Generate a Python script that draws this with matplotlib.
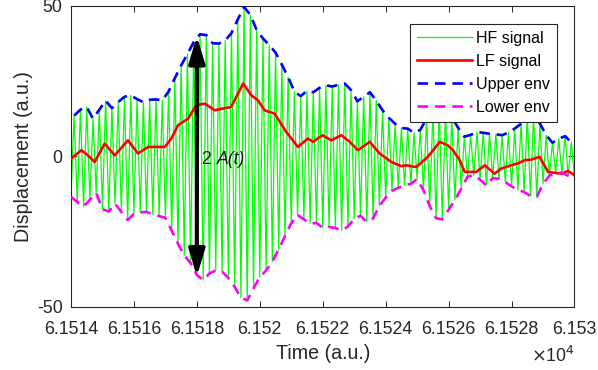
import matplotlib
matplotlib.use("Agg")
import matplotlib.pyplot as plt
import numpy as np
from matplotlib.ticker import FuncFormatter

plt.rcParams["font.family"] = ["Liberation Sans", "DejaVu Sans"]
plt.rcParams["axes.unicode_minus"] = False

# time axis (a.u.)
t_start = 61514.0
t_end = 61530.0
hf_step = 0.2  # spacing of HF extrema

# HF signal peaks (t = t_start + 0.1 + 0.2k)
hf_peaks = [13.5, 15.5, 16.4, 12.5, 15.5, 18.5, 16.0, 18.0, 19.8, 20.3,
            19.0, 18.0, 18.8, 18.9, 18.6, 21.5, 26.0, 30.2, 34.0, 38.0,
            40.6, 40.3, 37.6, 37.5, 38.5, 41.0, 45.5, 49.7, 47.0, 42.0,
            39.2, 37.0, 34.5, 30.5, 26.3, 21.5, 20.0, 21.8, 21.3, 22.8,
            23.6, 23.2, 23.8, 24.2, 22.0, 18.3, 19.8, 21.3, 18.5, 15.3,
            12.8, 10.8, 9.4, 9.2, 7.8, 8.8, 12.5, 15.0, 16.0, 15.0,
            13.0, 9.5, 6.5, 7.1, 8.1, 7.8, 7.5, 7.3, 7.0, 7.9,
            9.2, 10.8, 13.5, 13.5, 10.9, 7.0, 4.5, 5.8, 6.7, 4.6]

# HF signal troughs (t = t_start + 0.2k)
hf_troughs = [-13.5, -15.2, -16.7, -14.5, -12.2, -17.6, -18.4, -15.8, -18.5, -21.2,
              -19.2, -18.7, -18.5, -19.4, -19.9, -20.5, -24.8, -29.1, -33.0, -35.5,
              -39.5, -41.2, -39.0, -38.0, -38.4, -40.5, -43.5, -47.0, -48.0, -44.0,
              -40.2, -38.0, -35.0, -31.0, -26.6, -22.3, -19.5, -21.0, -22.4, -22.2,
              -23.8, -23.5, -23.9, -24.6, -23.4, -20.8, -19.8, -21.8, -20.7, -16.5,
              -13.8, -11.5, -10.5, -9.6, -9.2, -7.6, -11.3, -16.6, -20.6, -21.0,
              -17.8, -14.5, -10.8, -6.8, -6.3, -7.8, -9.7, -7.3, -7.5, -8.6,
              -10.0, -11.2, -11.9, -13.2, -13.5, -9.1, -6.5, -5.5, -5.5, -6.5,
              -7.0]

# LF signal (offset from t_start, value)
lf_t = [0.0, 0.33, 0.54, 0.75, 1.07, 1.39, 1.81, 2.13, 2.45, 2.66,
        2.98, 3.19, 3.40, 3.72, 3.98, 4.25, 4.57, 4.83, 5.09, 5.47,
        5.73, 5.94, 6.15, 6.47, 6.84, 7.21, 7.53, 7.69, 7.99, 8.27,
        8.59, 8.86, 9.12, 9.49, 9.81, 10.18, 10.50, 10.66, 10.97, 11.34,
        11.72, 11.96, 12.14, 12.35, 12.51, 12.88, 13.15, 13.46, 13.67, 13.99,
        14.20, 14.42, 14.63, 14.89, 15.16, 15.58, 15.79, 16.0]
lf_v = [-0.8, 2.0, 0.3, -1.9, 4.2, 0.3, 5.3, 0.9, 3.1, 3.1,
        3.1, 5.9, 10.3, 12.5, 17.0, 17.5, 15.3, 15.9, 16.4, 24.2,
        20.3, 18.6, 15.3, 14.2, 8.1, 3.1, 5.9, 4.8, 7.0, 5.3,
        7.0, 4.8, 2.0, 4.8, 0.9, -1.9, -3.3, -3.0, -3.6, -0.2,
        4.8, 3.7, 2.0, -1.3, -5.2, -5.2, -3.0, -5.8, -4.1, -3.0,
        -2.4, -1.3, -1.1, -0.2, -5.2, -5.8, -4.9, -6.3]

arrow_t = 61518.0
arrow_lo = -40.0
arrow_hi = 40.0

# build HF zigzag from extrema
peak_t = t_start + hf_step / 2 + hf_step * np.arange(len(hf_peaks))
trough_t = t_start + hf_step * np.arange(len(hf_troughs))
hf_t = np.empty(len(peak_t) + len(trough_t))
hf_v = np.empty_like(hf_t)
hf_t[0::2] = trough_t
hf_t[1::2] = peak_t
hf_v[0::2] = hf_troughs
hf_v[1::2] = hf_peaks

fig = plt.figure(figsize=(5.98, 3.70), dpi=100)
ax = fig.add_axes([0.1187, 0.1716, 0.842, 0.8122])

dash = (0, (4.0, 2.6))
ax.plot(hf_t, hf_v, color=(0, 1, 0), lw=0.9, label="HF signal", zorder=2)
ax.plot(t_start + np.array(lf_t), lf_v, color=(1, 0, 0), lw=1.9, label="LF signal", zorder=3)
ax.plot(peak_t, hf_peaks, color=(0, 0, 1), lw=1.9, ls=dash, label="Upper env", zorder=4)
ax.plot(trough_t, hf_troughs, color=(1, 0, 1), lw=1.9, ls=dash, label="Lower env", zorder=4)

ax.annotate("", xy=(arrow_t, arrow_hi), xytext=(arrow_t, arrow_lo),
            arrowprops=dict(arrowstyle="<|-|>,head_length=0.8,head_width=0.24",
                            mutation_scale=20, lw=3, color="k",
                            shrinkA=0, shrinkB=0), zorder=6)
t2 = ax.text(61518.16, -1.0, "2 ", fontsize=12.7, va="center", ha="left",
             color="0.1", zorder=7)
ax.annotate("A(t)", xy=(1.0, 0.5), xycoords=t2, va="center", ha="left",
            fontsize=12.7, fontstyle="italic", color="0.1", zorder=7)

ax.set_xlim(t_start, t_end)
ax.set_ylim(-50, 50)
ax.set_xticks(np.arange(61514, 61531, 2))
ax.set_yticks([-50, 0, 50])
ax.xaxis.set_major_formatter(FuncFormatter(lambda v, p: f"{v / 1e4:g}"))
ax.tick_params(direction="in", top=True, right=True, length=4.5, width=0.7,
               colors="0.15", labelsize=12.8, pad=6)
ax.tick_params(axis="x", pad=10.4)
for s in ax.spines.values():
    s.set_color("0.15")
    s.set_linewidth(0.8)

ax.set_xlabel("Time (a.u.)", fontsize=14.1, color="0.15", labelpad=4.5)
ax.set_ylabel("Displacement (a.u.)", fontsize=14.1, color="0.15", labelpad=3)
ax.text(1.001, -0.166, r"$\times$10$^4$", transform=ax.transAxes, ha="right", va="center",
        fontsize=12.8, color="0.15")

leg = ax.legend(loc="upper right", bbox_to_anchor=(0.966, 0.940), borderaxespad=0,
                fancybox=False, framealpha=1, edgecolor="0.15", fontsize=11.5,
                handlelength=3.5, handletextpad=0.25, labelspacing=0.5,
                borderpad=0.44)
leg.get_frame().set_linewidth(0.8)

fig.savefig("out.png", dpi=100)
